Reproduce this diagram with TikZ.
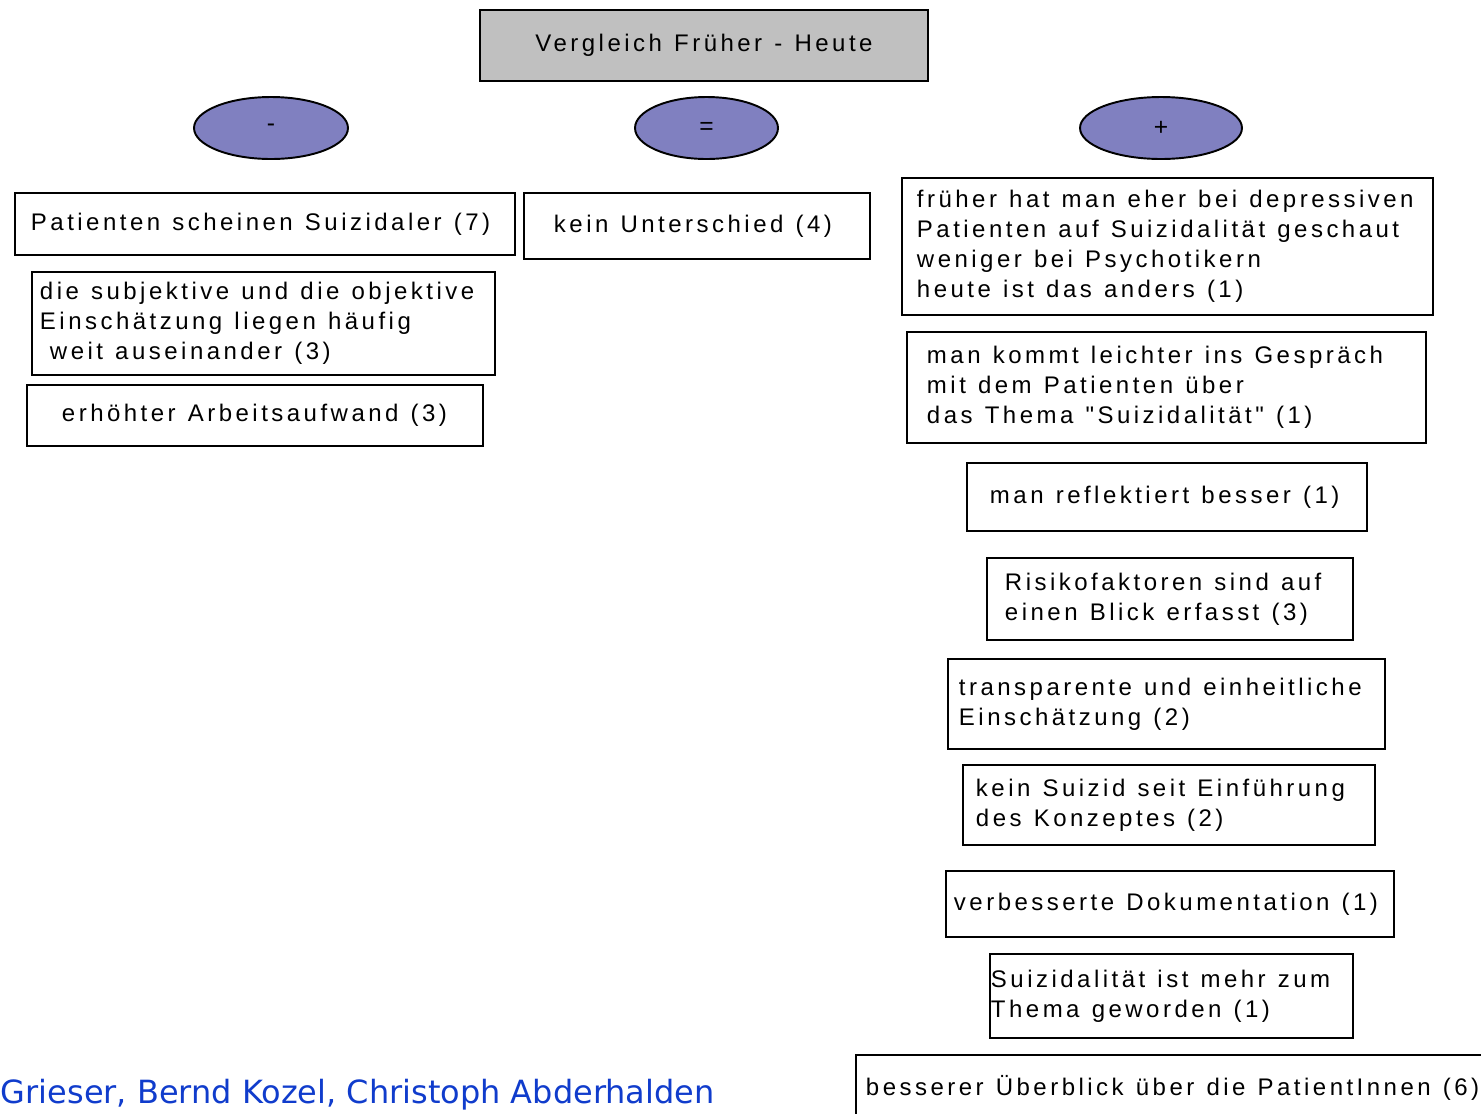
\documentclass[tikz,border=0pt]{standalone}
\usepackage{fontspec}
\newfontfamily\boxfont{Liberation Sans}[LetterSpace=14.5, WordSpace=1.2]
\newfontfamily\footfont{DejaVu Sans}
\usetikzlibrary{shapes.geometric}
\definecolor{titlegray}{RGB}{192,192,192}
\definecolor{ovalblue}{RGB}{128,128,192}
\definecolor{footblue}{RGB}{16,60,204}

\begin{document}
\begin{tikzpicture}
    [x=0.02cm, y=-0.02cm,
    line width=1.1pt,
    title/.style={draw, fill=titlegray, minimum width=8.96cm, minimum height=1.42cm, font=\fontsize{13.66}{17.07}\boxfont},
    oval/.style={draw, ellipse, fill=ovalblue, inner sep=0pt, minimum height=1.24cm, font=\fontsize{14}{16}\boxfont},
    item/.style={draw, anchor=west, align=flush left, inner ysep=0pt, font=\fontsize{13.66}{17.07}\boxfont}]
    \clip (0,0) rectangle (1481,1113);

        %% Header
    \node[title] (T) at (704,45.5) {Vergleich Früher - Heute};
        \node[oval, minimum width=3.08cm] (Minus) at (271,128) {-};
        \node[oval, minimum width=2.86cm] (Equal) at (706.5,128) {=};
        \node[oval, minimum width=3.24cm] (Plus) at (1161,128) {+};

        %% Column -
    \node[item, minimum width=10cm, minimum height=1.24cm, inner xsep=0.32cm, text width=9.36cm] (M1) at (14,224) {Patienten scheinen Suizidaler (7)};
        \node[item, minimum width=9.26cm, minimum height=2.06cm, inner xsep=0.16cm, text width=8.94cm] (M2) at (31,323.5) {die subjektive und die objektive\\Einschätzung liegen häufig\\\hspace*{0.2cm}weit auseinander (3)};
        \node[item, minimum width=9.12cm, minimum height=1.22cm, inner xsep=0.7cm, text width=7.72cm] (M3) at (26,415.5) {erhöhter Arbeitsaufwand (3)};

        %% Column =
    \node[item, minimum width=6.92cm, minimum height=1.32cm, inner xsep=0.6cm, text width=5.72cm] (E1) at (523,226) {kein Unterschied (4)};

        %% Column +
    \node[item, minimum width=10.62cm, minimum height=2.74cm, inner xsep=0.3cm, text width=10.02cm] (P1) at (901,246.5) {früher hat man eher bei depressiven\\Patienten auf Suizidalität geschaut\\weniger bei Psychotikern\\heute ist das anders (1)};
        \node[item, minimum width=10.38cm, minimum height=2.22cm, inner xsep=0.4cm, text width=9.58cm] (P2) at (906,387.5) {man kommt leichter ins Gespräch\\mit dem Patienten über\\das Thema "Suizidalität" (1)};
        \node[item, minimum width=8cm, minimum height=1.36cm, inner xsep=0.46cm, text width=7.08cm] (P3) at (966,497) {man reflektiert besser (1)};
        \node[item, minimum width=7.32cm, minimum height=1.64cm, inner xsep=0.36cm, text width=6.6cm] (P4) at (986,599) {Risikofaktoren sind auf\\einen Blick erfasst (3)};
        \node[item, minimum width=8.74cm, minimum height=1.8cm, inner xsep=0.22cm, text width=8.3cm] (P5) at (947,704) {transparente und einheitliche\\Einschätzung (2)};
        \node[item, minimum width=8.24cm, minimum height=1.6cm, inner xsep=0.26cm, text width=7.72cm] (P6) at (962,805) {kein Suizid seit Einführung\\des Konzeptes (2)};
        \node[item, minimum width=8.96cm, minimum height=1.32cm, inner xsep=0.16cm, text width=8.64cm] (P7) at (945,904) {verbesserte Dokumentation (1)};
        \node[item, minimum width=7.26cm, minimum height=1.68cm, inner xsep=0.02cm, text width=7.22cm] (P8) at (989,996) {Suizidalität ist mehr zum\\Thema geworden (1)};
        \node[item, minimum width=12.9cm, minimum height=1.32cm, inner xsep=0.2cm, text width=12.5cm] (P9) at (855,1088) {besserer Überblick über die PatientInnen (6)};

        %% Footer
    \node[anchor=base west, inner sep=0pt, font=\fontsize{18.2}{20}\footfont, text=footblue] (Authors) at (0,1103) {Grieser, Bernd Kozel, Christoph Abderhalden};
    \end{tikzpicture}
\end{document}
